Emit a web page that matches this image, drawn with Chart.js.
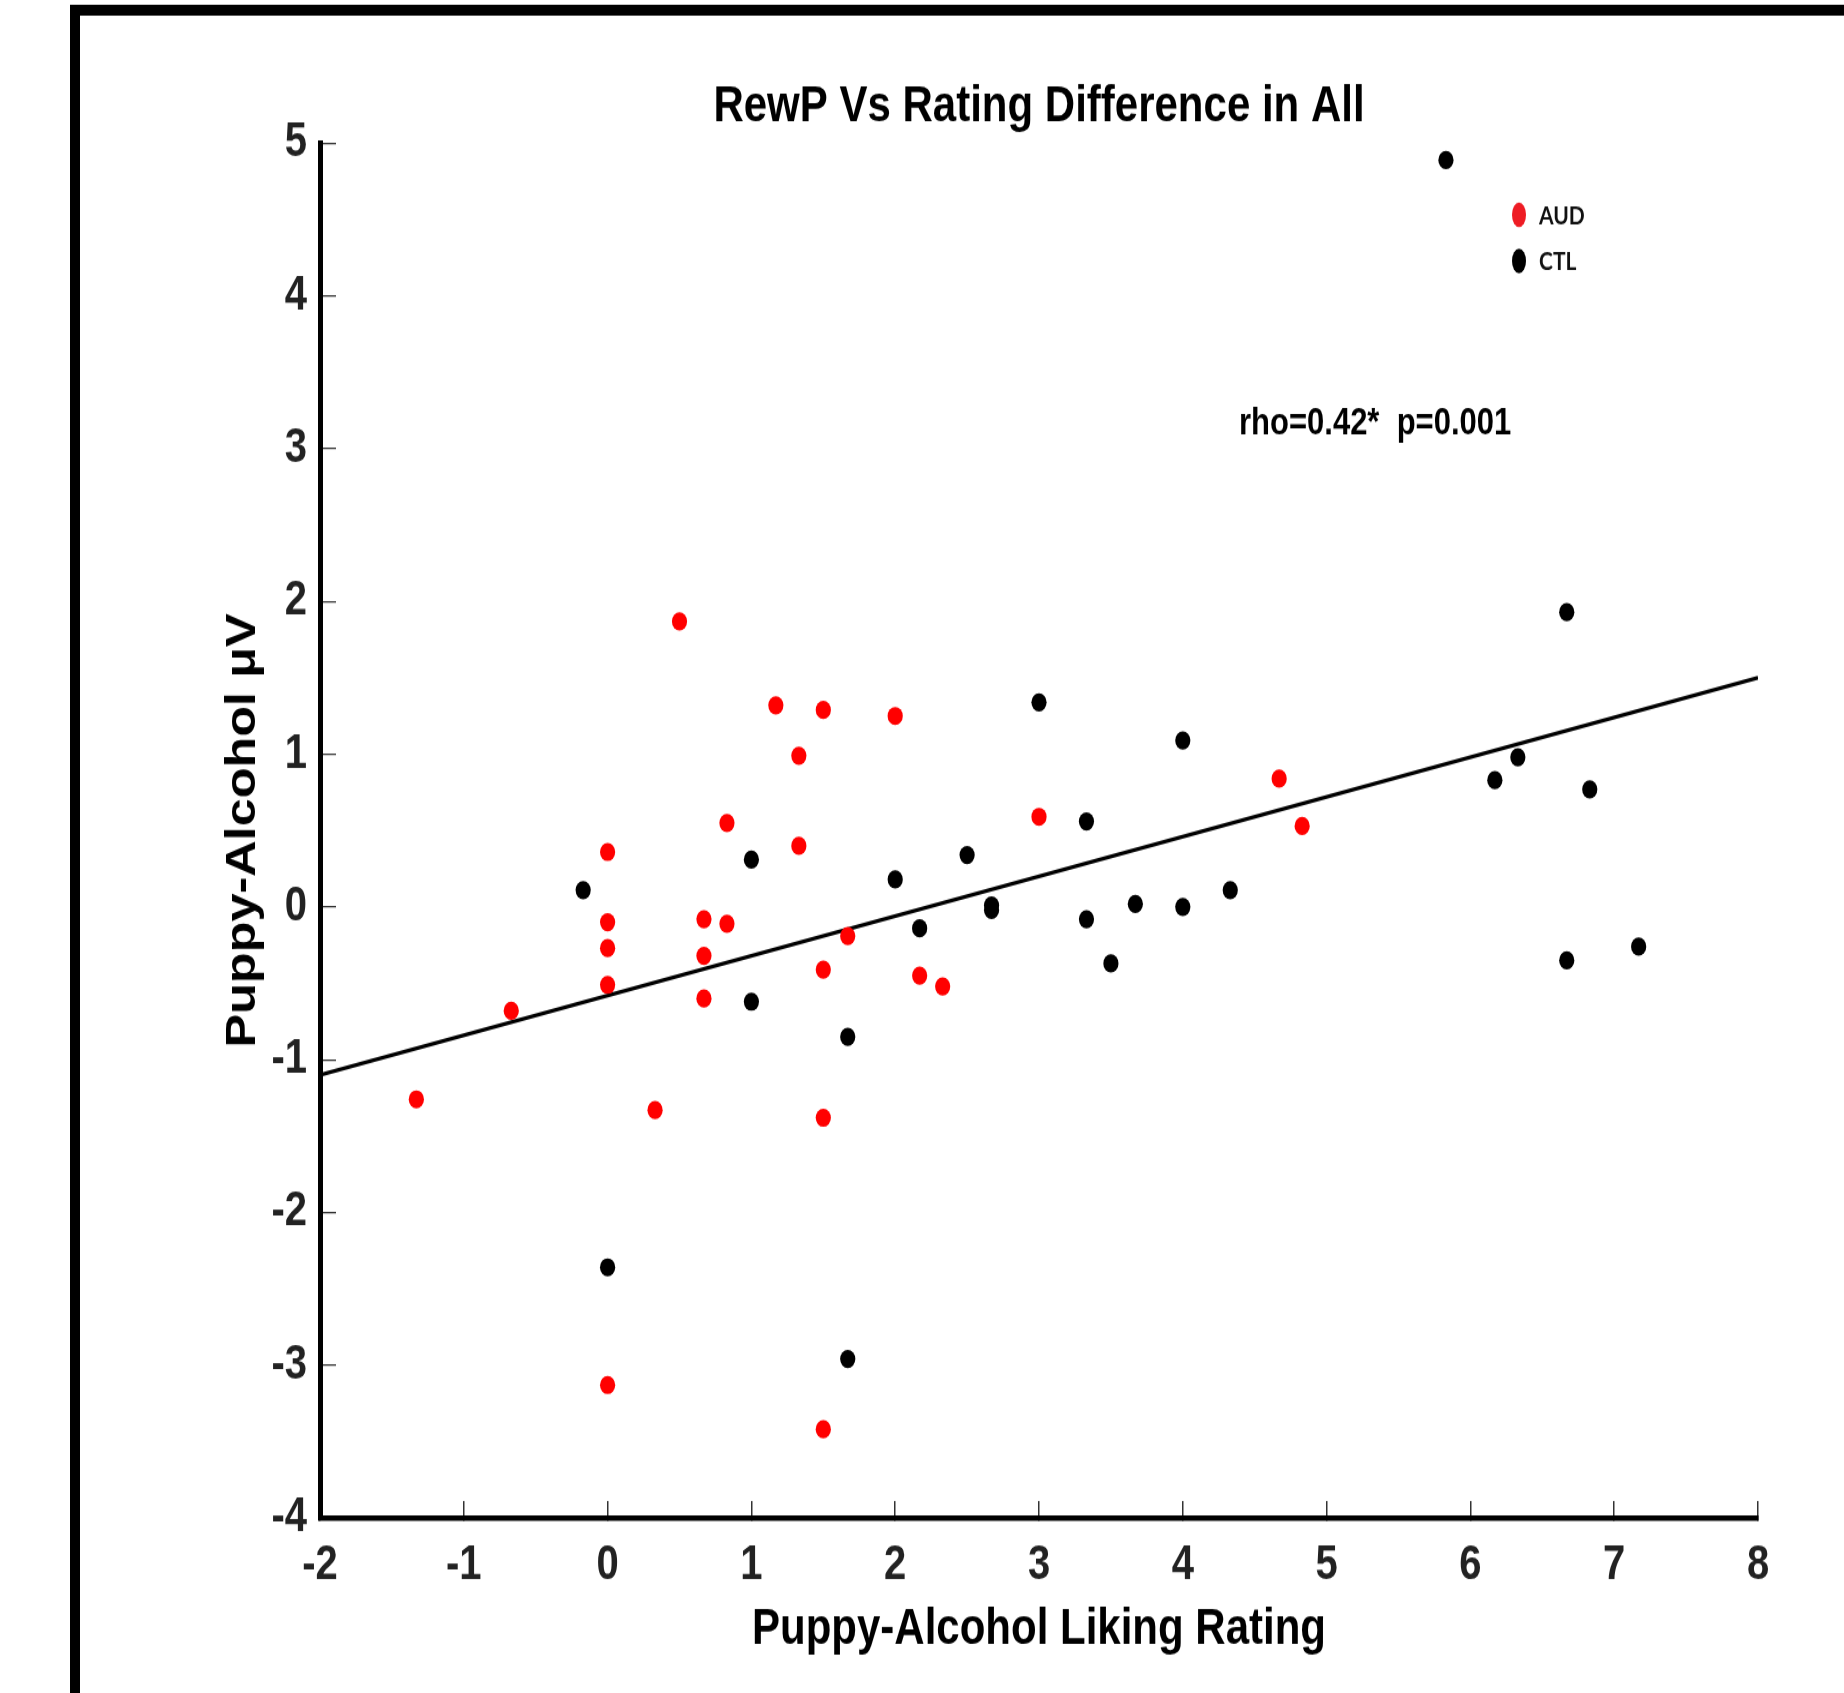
<!DOCTYPE html>
<html>
<head>
<meta charset="utf-8">
<title>RewP Vs Rating Difference in All</title>
<script src="https://cdn.jsdelivr.net/npm/chart.js@4.4.1/dist/chart.umd.min.js"></script>
<style>
  html, body { margin: 0; padding: 0; background: #fff; }
  #chart { display: block; }
</style>
</head>
<body>
<!-- the original figure is stretched vertically, so the canvas is drawn
     shorter and scaled up to the page height (inline style so Chart.js keeps it) -->
<canvas id="chart" width="1844" height="1411" style="width:1844px;height:1693px"></canvas>
<script>
// AUD group (red)
const audX = [-1.33, -0.67, 0, 0, 0, 0, 0, 0.33, 0.5, 0.67, 0.67, 0.67, 0.83, 0.83,
  1.17, 1.33, 1.33, 1.5, 1.5, 1.5, 1.5, 1.67, 2, 2.17, 2.33, 3, 4.67, 4.83];
const audY = [-1.26, -0.68, 0.36, -0.10, -0.27, -0.51, -3.13, -1.33, 1.87, -0.08, -0.32, -0.60, 0.55, -0.11,
  1.32, 0.99, 0.40, 1.29, -0.41, -1.38, -3.42, -0.19, 1.25, -0.45, -0.52, 0.59, 0.84, 0.53];

// CTL group (black)
const ctlX = [-0.17, 0, 1, 1, 1.67, 1.67, 2, 2.17, 2.5, 2.67, 2.67, 3, 3.33, 3.33,
  3.5, 3.67, 4, 4, 4.33, 5.83, 6.17, 6.33, 6.67, 6.67, 6.83, 7.17];
const ctlY = [0.11, -2.36, 0.31, -0.62, -0.85, -2.96, 0.18, -0.14, 0.34, 0.01, -0.02, 1.34, 0.56, -0.08,
  -0.37, 0.02, 1.09, 0.00, 0.11, 4.89, 0.83, 0.98, 1.93, -0.35, 0.77, -0.26];

// fit line end points
const fitX = [-2, 8];
const fitY = [-1.10, 1.50];

const xTickValues = [-2, -1, 0, 1, 2, 3, 4, 5, 6, 7, 8];
const yTickValues = [-4, -3, -2, -1, 0, 1, 2, 3, 4, 5];

const titleText = 'RewP Vs Rating Difference in All';
const xTitle = 'Puppy-Alcohol Liking Rating';
const yTitle = 'Puppy-Alcohol μV';
const statsText = 'rho=0.42*  p=0.001';

const SANS = "'Liberation Sans', Arial, sans-serif";

function toPoints(xs, ys) {
  return xs.map((x, i) => ({ x: x, y: ys[i] }));
}

const frame = {
  id: 'frame',
  beforeDraw(chart) {
    const ctx = chart.ctx;
    ctx.save();
    ctx.fillStyle = '#000';
    ctx.fillRect(70, 4, chart.width - 70, 9);
    ctx.fillRect(70, 4, 10, chart.height - 4);
    ctx.restore();
  }
};

const notes = {
  id: 'notes',
  afterDraw(chart) {
    const ctx = chart.ctx;
    ctx.save();
    // stats text
    ctx.fillStyle = '#000';
    ctx.font = 'bold 31px ' + SANS;
    ctx.textAlign = 'left';
    ctx.textBaseline = 'middle';
    ctx.fillText(statsText, 1239, 353);

    // legend
    const items = chart.data.datasets.filter(d => d.legendColor);
    items.forEach((d, i) => {
      const y = 179 + i * 38.5;
      ctx.fillStyle = d.legendColor;
      ctx.beginPath();
      ctx.ellipse(1519, y, 7, 10.3, 0, 0, Math.PI * 2);
      ctx.fill();
      ctx.fillStyle = '#111';
      ctx.font = 'bold 21px Lato, "Open Sans", sans-serif';
      ctx.fillText(d.label, 1539, y + 1);
    });
    ctx.restore();
  }
};

new Chart(document.getElementById('chart'), {
  type: 'scatter',
  data: {
    datasets: [
      {
        label: 'AUD',
        data: toPoints(audX, audY),
        backgroundColor: '#ff0000',
        borderWidth: 0,
        pointRadius: 7.6,
        legendColor: '#ee1c24',
        order: 1
      },
      {
        label: 'CTL',
        data: toPoints(ctlX, ctlY),
        backgroundColor: '#000000',
        borderWidth: 0,
        pointRadius: 7.6,
        legendColor: '#000000',
        order: 2
      },
      {
        label: 'fit',
        data: toPoints(fitX, fitY),
        showLine: true,
        borderColor: '#000',
        borderWidth: 3.2,
        pointRadius: 0,
        order: 5
      }
    ]
  },
  options: {
    responsive: false,
    animation: false,
    events: [],
    layout: { padding: { left: 0, right: 86, top: 0, bottom: 0 } },
    plugins: {
      legend: { display: false },
      tooltip: { enabled: false },
      title: {
        display: true,
        text: titleText,
        fullSize: false,
        color: '#000',
        font: { family: SANS, size: 42, weight: 'bold' },
        padding: { top: 64, bottom: 5 }
      }
    },
    scales: {
      x: {
        type: 'linear',
        min: -2,
        max: 8,
        afterBuildTicks: (scale) => { scale.ticks = xTickValues.map(v => ({ value: v })); },
        afterFit: (scale) => { scale.height = 146; },
        grid: { drawOnChartArea: false, drawTicks: true, tickLength: -14, tickColor: '#333', lineWidth: 1.5 },
        border: { display: true, color: '#000', width: 4.5 },
        ticks: {
          color: '#222',
          padding: 30,
          font: { family: SANS, size: 40, weight: 'bold' }
        },
        title: {
          display: true,
          text: xTitle,
          color: '#000',
          font: { family: SANS, size: 42, weight: 'bold' },
          padding: { top: 0, bottom: 27 }
        }
      },
      y: {
        type: 'linear',
        min: -4,
        max: 5,
        afterBuildTicks: (scale) => { scale.ticks = yTickValues.map(v => ({ value: v })); },
        afterFit: (scale) => { scale.width = 320; },
        grid: { drawOnChartArea: false, drawTicks: true, tickLength: -16, tickColor: '#333', lineWidth: 1.25 },
        border: { display: true, color: '#000', width: 5 },
        ticks: {
          color: '#222',
          padding: 29,
          font: { family: SANS, size: 40, weight: 'bold' }
        },
        title: {
          display: true,
          text: yTitle,
          color: '#000',
          font: { family: SANS, size: 42, weight: 'bold' },
          padding: { top: 218, bottom: 0 }
        }
      }
    }
  },
  plugins: [frame, notes]
});
</script>
</body>
</html>
